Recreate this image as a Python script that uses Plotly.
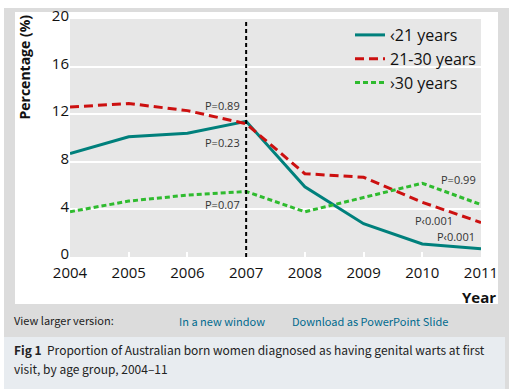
import plotly.graph_objects as go

years = [2004, 2005, 2006, 2007, 2008, 2009, 2010, 2011]
under21 = [8.7, 10.1, 10.4, 11.4, 5.9, 2.8, 1.1, 0.7]
age21_30 = [12.6, 12.9, 12.3, 11.2, 7.0, 6.7, 4.6, 2.9]
over30 = [3.8, 4.7, 5.2, 5.5, 3.8, 5.0, 6.2, 4.4]
series_names = ["‹21 years", "21-30 years", "›30 years"]
yticks = [0, 4, 8, 12, 16, 20]

FONT = "Open Sans"
fig = go.Figure()
fig.add_trace(go.Scatter(x=years, y=under21, mode="lines", name=series_names[0],
                         line=dict(color="#00807c", width=3)))
fig.add_trace(go.Scatter(x=years, y=age21_30, mode="lines", name=series_names[1],
                         line=dict(color="#cc1010", width=3, dash="9px,5px")))
fig.add_trace(go.Scatter(x=years, y=over30, mode="lines", name=series_names[2],
                         line=dict(color="#2fbb2f", width=3, dash="5px,3px")))


def px(xp):
    return (xp - 70) / 411


def py(yp):
    return (257 - yp) / 238


def rect(x0, x1, y0, y1, color):
    return dict(type="rect", xref="paper", yref="paper", x0=px(x0), x1=px(x1),
                y0=py(y1), y1=py(y0), fillcolor=color, line_width=0, layer="below")


shapes = [
    rect(4, 509, 8, 389, "#dcdcdc"),
    rect(15, 498, 12, 304, "white"),
    rect(4, 505, 337, 389, "#e8ecf0"),
    rect(70, 481, 19, 257, "#e7e7e7"),
    # vertical dashed line at 2007
    dict(type="line", xref="x", yref="paper", x0=2007, x1=2007, y0=0, y1=1,
         line=dict(color="black", width=2, dash="4px,3px")),
]

ann = []


def pa(text, x, y):
    ann.append(dict(text=text, x=x, y=y, xref="x", yref="y", showarrow=False,
                    xanchor="center", yanchor="middle",
                    font=dict(family=FONT, size=11, color="#333333")))


pa("P=0.89", 2006.6, 12.75)
pa("P=0.23", 2006.6, 9.6)
pa("P=0.07", 2006.6, 4.45)
pa("P=0.99", 2010.62, 6.5)
pa("P‹0.001", 2010.2, 3.1)
pa("P‹0.001", 2010.58, 1.7)

ann.append(dict(text="<b>Percentage (%)</b>", x=px(24), y=py(13), xref="paper", yref="paper",
                textangle=-90, showarrow=False, xanchor="center", yanchor="top",
                font=dict(family=FONT, size=14, color="#111111")))
ann.append(dict(text="<b>Year</b>", x=px(498), y=py(297), xref="paper", yref="paper",
                showarrow=False, xanchor="right", yanchor="middle",
                font=dict(family=FONT, size=15, color="#111111")))
FF = "Noto Sans CJK JP"
ann.append(dict(text="View larger version:", x=px(12), y=py(320), xref="paper", yref="paper",
                showarrow=False, xanchor="left", yanchor="middle",
                font=dict(family=FF, size=11, color="#222222")))
ann.append(dict(text="In a new window", x=px(177), y=py(321), xref="paper", yref="paper",
                showarrow=False, xanchor="left", yanchor="middle",
                font=dict(family=FF, size=11, color="#006a8e")))
ann.append(dict(text="Download as PowerPoint Slide", x=px(290), y=py(321), xref="paper", yref="paper",
                showarrow=False, xanchor="left", yanchor="middle",
                font=dict(family=FF, size=11, color="#006a8e")))
ann.append(dict(text="<b>Fig 1</b>  Proportion of Australian born women diagnosed as having genital warts at first",
                x=px(12), y=py(349), xref="paper", yref="paper",
                showarrow=False, xanchor="left", yanchor="middle",
                font=dict(family=FF, size=12, color="#222222")))
ann.append(dict(text="visit, by age group, 2004–11",
                x=px(12), y=py(368), xref="paper", yref="paper",
                showarrow=False, xanchor="left", yanchor="middle",
                font=dict(family=FF, size=12, color="#222222")))

fig.update_layout(
    width=509, height=389,
    margin=dict(l=70, r=28, t=19, b=132),
    paper_bgcolor="white", plot_bgcolor="rgba(0,0,0,0)",
    shapes=shapes, annotations=ann,
    font=dict(family=FONT, size=15, color="#111111"),
    legend=dict(x=px(350), y=py(18), xanchor="left", yanchor="top",
                bgcolor="rgba(0,0,0,0)", font=dict(family=FONT, size=16, color="#111111"),
                tracegroupgap=0, itemwidth=30),
    xaxis=dict(range=[2004, 2011], tickvals=years, ticks="inside", ticklen=5,
               tickcolor="white", tickwidth=1.5, showgrid=False, zeroline=False,
               showline=False, tickfont=dict(size=15), automargin=False,
               ticklabelstandoff=5),
    yaxis=dict(range=[0, 20], tickvals=yticks, gridcolor="white", gridwidth=2,
               zeroline=False, showline=False, ticks="", tickfont=dict(size=15),
               automargin=False, ticklabelshift=-3),
)
fig.write_html("out.html", config={"displayModeBar": False},
               post_script="document.body.style.margin='0px';document.body.style.overflow='hidden';")
